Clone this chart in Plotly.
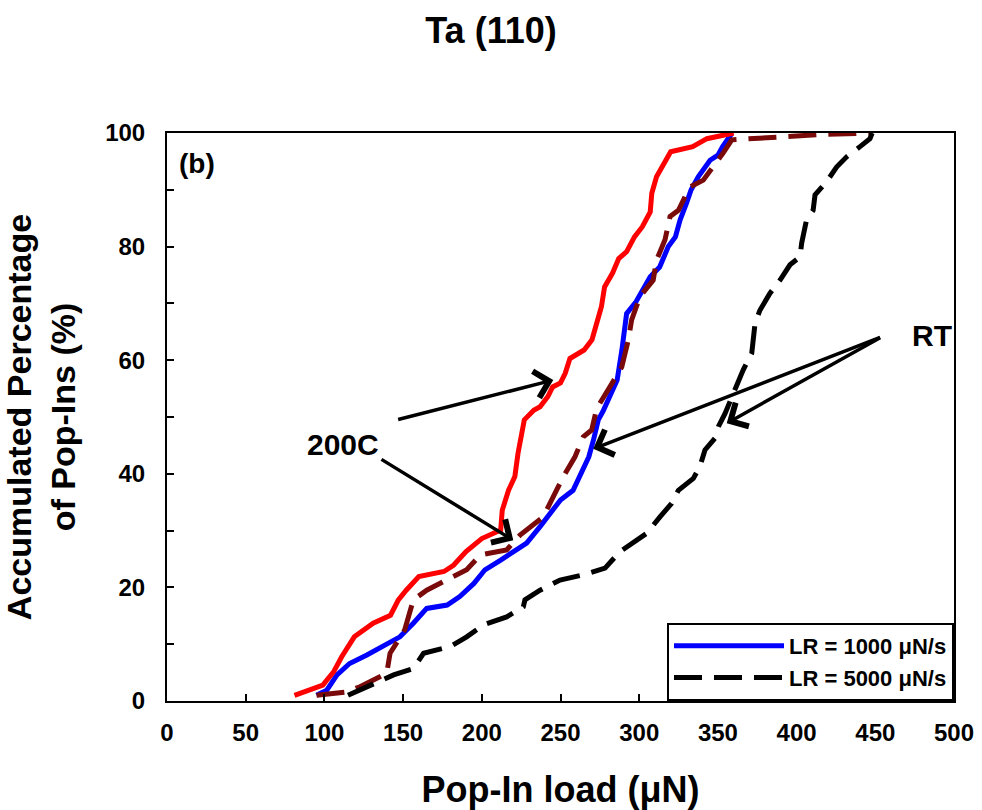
import plotly.graph_objects as go

# Pop-in load (uN) vs accumulated percentage of pop-ins (%), Ta (110)
# RT, LR = 1000 uN/s
rt1000_load = [95, 101.5, 108, 116, 127, 140, 148, 156.5, 165, 178, 186, 195, 202, 212, 220,
               228.5, 237, 243, 250, 258, 263.5, 268, 271, 274, 277, 280, 286, 289, 292, 298,
               307, 313, 318.5, 323, 326, 330, 333, 337.5, 342, 345, 350, 353, 359]
rt1000_pct = [1, 1.9, 4.6, 6.6, 8.1, 10.1, 11.3, 13.7, 16.3, 16.9, 18.4, 20.7, 23.1, 24.8, 26.3,
              27.8, 30.7, 33, 35.4, 37.1, 40.1, 43, 46, 49.5, 51, 53, 56.5, 61.8, 68.2, 70.3,
              74.7, 76.4, 80, 81.7, 84.7, 87.6, 90, 92.3, 94, 95.2, 96.1, 97.6, 100]

# 200C, LR = 1000 uN/s
hot1000_load = [81, 99, 106, 111, 119, 131, 142, 147, 152, 160, 176, 182, 190, 200, 212, 213,
                217, 221, 223, 227, 233, 237, 242, 245, 250, 253, 256, 265, 270, 273, 276, 278,
                283, 287, 292, 297, 302, 307, 308, 311, 320, 334, 343, 360]
hot1000_pct = [1, 2.8, 5.2, 7.8, 11.3, 13.7, 15.1, 17.8, 19.5, 21.9, 22.8, 23.9, 26.3, 28.6,
               30.1, 33.6, 37.1, 39.5, 43.6, 49.5, 51.2, 51.8, 53.6, 55.3, 56, 57.7, 60.3, 61.8,
               63.6, 66.5, 69.4, 72.9, 75.3, 77.9, 79.1, 81.7, 83.5, 86.1, 89.4, 92.3, 96.7,
               97.6, 99, 100]

# 200C, LR = 5000 uN/s
hot5000_load = [95, 114, 122.6, 139.6, 141.7, 151, 156.5, 165, 177.6, 190.4, 199, 215.8, 224.3,
                239, 244.4, 251.8, 259.2, 264.5, 269.8, 273, 281.4, 288.9, 293.1, 295.2, 300.5,
                308.9, 311, 316.4, 319.6, 324.9, 330.2, 332.3, 340.7, 349.2, 353.4, 358.8, 370,
                391, 413, 447]
hot5000_pct = [1, 1.6, 2.5, 4.9, 8.4, 12.5, 17.8, 19.5, 21.3, 23.1, 25.7, 26.6, 29.2, 32.4,
               35.4, 39.5, 43, 46.5, 47.7, 51.5, 55.3, 58.8, 63.6, 67.1, 71.2, 74.1, 77.6, 81.2,
               85.3, 86.4, 89.4, 90.5, 91.7, 94.7, 96.5, 98.8, 99, 99.4, 99.7, 100]

# RT, LR = 5000 uN/s
rt5000_load = [115, 127, 144, 156.5, 163, 180, 190.4, 201, 215.8, 226.4, 227.4, 237, 249.7,
               264.5, 278.3, 287.8, 304.7, 313.2, 320.6, 324.9, 334.4, 338.6, 341.8, 348.2,
               350.3, 354.5, 360.9, 366.1, 371.5, 373.6, 376.7, 383.1, 389.5, 395.8, 402.2,
               403.2, 406.3, 410.5, 411.7, 419, 425.4, 431.8, 440.3, 446.6, 448]
rt5000_pct = [1, 2.5, 4.6, 5.7, 8.4, 9.6, 11.3, 13.4, 14.8, 16.6, 17.8, 19.5, 21.3, 22.2, 23.4,
              26.3, 29.5, 32.4, 34.8, 37.1, 39.2, 41.3, 44.2, 46.3, 48.3, 50.6, 54.8, 58.3,
              61.2, 66.5, 68.8, 71.8, 74.1, 76.8, 78.2, 80.6, 84.7, 86.4, 89.1, 91.4, 94, 95.8,
              97.6, 99, 100]

x_ticks = [0, 50, 100, 150, 200, 250, 300, 350, 400, 450, 500]
y_ticks = [0, 20, 40, 60, 80, 100]

# callout labels: (text, text position, arrow head positions, arrow tail positions)
label_200c = ("200C", (111.8, 45.2), [(245.4, 56.5), (220.0, 28.3)],
              [(145.9, 49.5), (135.3, 42.7)])
label_rt = ("RT", (486.0, 64.3), [(270.8, 44.4), (355.6, 48.9)],
            [(454.0, 64.1), (454.0, 64.1)])

FONT = "Arial, 'Liberation Sans', sans-serif"
DASH = "28px,12px"

fig = go.Figure()
fig.add_trace(go.Scatter(x=rt1000_load, y=rt1000_pct, mode="lines", name="LR = 1000 \u03bcN/s",
                         line=dict(color="#0000ff", width=5)))
fig.add_trace(go.Scatter(x=hot1000_load, y=hot1000_pct, mode="lines", showlegend=False,
                         line=dict(color="#ff0000", width=5)))
fig.add_trace(go.Scatter(x=hot5000_load, y=hot5000_pct, mode="lines", showlegend=False,
                         line=dict(color="#7a0a0a", width=5, dash=DASH)))
fig.add_trace(go.Scatter(x=rt5000_load, y=rt5000_pct, mode="lines", name="LR = 5000 \u03bcN/s",
                         line=dict(color="#000000", width=5, dash=DASH)))

annotations = []
for text, (tx, ty), heads, tails in (label_200c, label_rt):
    annotations.append(dict(x=tx, y=ty, xref="x", yref="y", text=f"<b>{text}</b>",
                            showarrow=False, font=dict(family=FONT, size=30, color="#000")))
    for (hx, hy), (sx, sy) in zip(heads, tails):
        annotations.append(dict(x=hx, y=hy, ax=sx, ay=sy, xref="x", yref="y",
                                axref="x", ayref="y", text="", showarrow=True,
                                arrowhead=4, arrowsize=1.5, arrowwidth=3.5,
                                arrowcolor="#000"))
annotations.append(dict(x=0.013, y=0.977, xref="paper", yref="paper", xanchor="left",
                        yanchor="top", text="<b>(b)</b>", showarrow=False,
                        font=dict(family=FONT, size=28, color="#000")))

fig.update_layout(
    width=982, height=810,
    margin=dict(l=167, r=28, t=133, b=109),
    paper_bgcolor="white", plot_bgcolor="white",
    title=dict(text="<b>Ta (110)</b>", x=0.5, xanchor="center", y=0.963, yanchor="middle",
               font=dict(family=FONT, size=36, color="#000")),
    font=dict(family=FONT, color="#000"),
    annotations=annotations,
    legend=dict(x=1, y=0, xanchor="right", yanchor="bottom",
                bordercolor="#000", borderwidth=2, bgcolor="white",
                font=dict(family=FONT, size=22, color="#000", weight="bold"),
                itemwidth=110, tracegroupgap=0),
)
fig.update_xaxes(
    range=[0, 500], tickvals=x_ticks, ticks="inside", ticklen=7, tickwidth=1.5,
    tickcolor="#000", showline=True, linecolor="#000", linewidth=2, mirror=True,
    showgrid=False, zeroline=False, ticklabelstandoff=9, automargin=False,
    tickfont=dict(family=FONT, size=24, color="#000", weight="bold"),
    title=dict(text="<b>Pop-In load (\u03bcN)</b>", standoff=32,
               font=dict(family=FONT, size=36, color="#000")),
)
fig.update_yaxes(
    range=[0, 100], tickvals=y_ticks, ticks="inside", ticklen=7, tickwidth=1.5,
    tickcolor="#000", showline=True, linecolor="#000", linewidth=2, mirror=True,
    showgrid=False, zeroline=False, ticklabelstandoff=15, automargin=False,
    minor=dict(dtick=10, ticks="inside", ticklen=7, tickwidth=1.5, tickcolor="#000"),
    tickfont=dict(family=FONT, size=24, color="#000", weight="bold"),
    title=dict(text="<b>Accumulated Percentage<br>of Pop-Ins (%)</b>", standoff=20,
               font=dict(family=FONT, size=34, color="#000")),
)

fig.write_html("out.html")
